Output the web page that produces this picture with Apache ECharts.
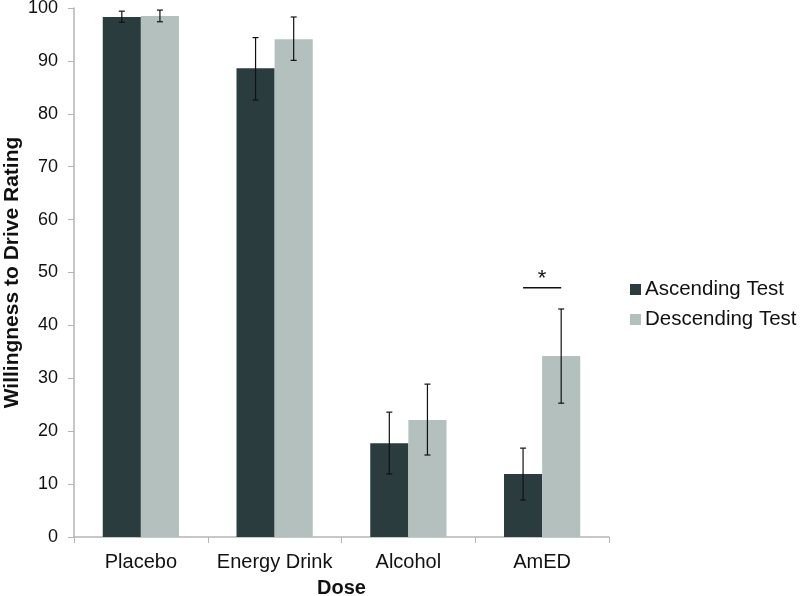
<!DOCTYPE html>
<html>
<head>
<meta charset="utf-8">
<script src="https://cdn.jsdelivr.net/npm/echarts@6/dist/echarts.min.js"></script>
<style>
  html, body { margin: 0; padding: 0; background: #fff; }
  #chart-container { width: 800px; height: 596px; }
</style>
</head>
<body>
<div id="chart-container"></div>
<script>
var categories = ['Placebo', 'Energy Drink', 'Alcohol', 'AmED'];
var ascending = [98.3, 88.6, 17.7, 11.9];
var ascLow = [97.3, 82.6, 11.9, 7.0];
var ascHigh = [99.4, 94.4, 23.6, 16.8];
var descending = [98.5, 94.1, 22.1, 34.2];
var descLow = [97.4, 90.1, 15.5, 25.3];
var descHigh = [99.6, 98.3, 28.9, 43.1];
// significance bracket over AmED
var sigCategory = 'AmED';
var sigValue = 47.1;

var darkColor = '#2b3c3f';
var lightColor = '#b3c0be';
var gapRatio = 0.43;

var dom = document.getElementById('chart-container');
var myChart = echarts.init(dom, null, { renderer: 'canvas' });

function barOffset(api, side) {
  var band = api.size([1, 0])[0];
  return side * band * (1 - gapRatio) / 4;
}

function errorBars(side) {
  return function (params, api) {
    var i = api.value(0);
    var low = api.coord([i, api.value(1)]);
    var high = api.coord([i, api.value(2)]);
    var x = low[0] + barOffset(api, side);
    var cap = 3;
    var style = { stroke: '#111', lineWidth: 1.2 };
    return {
      type: 'group',
      children: [
        { type: 'line', shape: { x1: x, y1: high[1], x2: x, y2: low[1] }, style: style },
        { type: 'line', shape: { x1: x - cap, y1: high[1], x2: x + cap, y2: high[1] }, style: style },
        { type: 'line', shape: { x1: x - cap, y1: low[1], x2: x + cap, y2: low[1] }, style: style }
      ]
    };
  };
}

var option = {
  animation: false,
  grid: { left: 74, right: 191, top: 8, bottom: 59, containLabel: false, outerBoundsMode: 'none' },
  legend: {
    orient: 'vertical',
    left: 630,
    top: 279,
    padding: 0,
    itemWidth: 11,
    itemHeight: 11,
    itemGap: 9,
    icon: 'rect',
    textStyle: { fontFamily: 'Liberation Sans', fontSize: 20.5, lineHeight: 20, color: '#111', padding: [0, 0, 0, -1] },
    data: ['Ascending Test', 'Descending Test']
  },
  xAxis: {
    type: 'category',
    data: categories,
    name: 'Dose',
    nameLocation: 'middle',
    nameGap: 41,
    nameTextStyle: { fontFamily: 'Liberation Sans', fontSize: 20, fontWeight: 'bold', color: '#111' },
    axisLine: { lineStyle: { color: '#b5b5b5', width: 1.5 } },
    axisTick: { show: true, length: 6, lineStyle: { color: '#b5b5b5' } },
    axisLabel: { interval: 0, fontFamily: 'Liberation Sans', fontSize: 20, color: '#111', margin: 15 }
  },
  yAxis: {
    type: 'value',
    min: 0,
    max: 100,
    interval: 10,
    name: 'Willingness to Drive Rating',
    nameLocation: 'middle',
    nameGap: 51,
    nameMoveOverlap: false,
    nameTextStyle: { fontFamily: 'Liberation Sans', fontSize: 21, fontWeight: 'bold', color: '#111' },
    axisLine: { show: true, lineStyle: { color: '#b5b5b5', width: 1.5 } },
    axisTick: { show: true, length: 6, lineStyle: { color: '#b5b5b5' } },
    splitLine: { show: false },
    axisLabel: { fontFamily: 'Liberation Sans', fontSize: 18, color: '#111', margin: 16 }
  },
  series: [
    {
      name: 'Ascending Test',
      type: 'bar',
      data: ascending,
      barGap: '0%',
      barCategoryGap: '43%',
      itemStyle: { color: darkColor }
    },
    {
      name: 'Descending Test',
      type: 'bar',
      data: descending,
      barGap: '0%',
      barCategoryGap: '43%',
      itemStyle: { color: lightColor }
    },
    {
      type: 'custom',
      renderItem: errorBars(-1),
      data: categories.map(function (c, i) { return [i, ascLow[i], ascHigh[i]]; }),
      z: 10,
      silent: true
    },
    {
      type: 'custom',
      renderItem: errorBars(1),
      data: categories.map(function (c, i) { return [i, descLow[i], descHigh[i]]; }),
      z: 10,
      silent: true
    },
    {
      type: 'custom',
      renderItem: function (params, api) {
        var p = api.coord([api.value(0), api.value(1)]);
        var dx = barOffset(api, 1);
        return {
          type: 'group',
          children: [
            { type: 'line', shape: { x1: p[0] - dx, y1: p[1], x2: p[0] + dx, y2: p[1] },
              style: { stroke: '#111', lineWidth: 1.5 } },
            { type: 'text', x: p[0], y: p[1] + 2,
              style: { text: '*', fontFamily: 'Liberation Sans', fontSize: 22,
                       fill: '#111', align: 'center', verticalAlign: 'bottom' } }
          ]
        };
      },
      data: [[categories.indexOf(sigCategory), sigValue]],
      z: 10,
      silent: true
    }
  ]
};

myChart.setOption(option);
window.addEventListener('resize', myChart.resize);
</script>
</body>
</html>
